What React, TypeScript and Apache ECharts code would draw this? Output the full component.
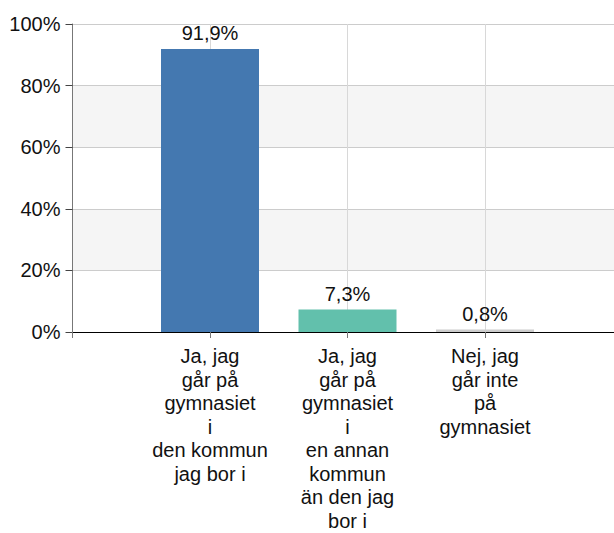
import React, { useEffect, useRef } from "react";
import * as echarts from "echarts";

const categories = [
  "",
  "Ja, jag\ngår på\ngymnasiet\ni\nden kommun\njag bor i",
  "Ja, jag\ngår på\ngymnasiet\ni\nen annan\nkommun\nän den jag\nbor i",
  "Nej, jag\ngår inte\npå\ngymnasiet",
  "",
];
const values: (number | null)[] = [null, 91.9, 7.3, 0.8, null];
const barColors = ["#4478b0", "#4478b0", "#62c0ac", "#cccccc", "#cccccc"];
const yTicks = { min: 0, max: 100, interval: 20 };

const FONT = "'Liberation Sans', Arial, sans-serif";

export default function App() {
  const ref = useRef<HTMLDivElement>(null);
  useEffect(() => {
    if (!ref.current) return;
    const chart = echarts.init(ref.current, undefined, { renderer: "svg" });
    chart.setOption({
      animation: false,
      textStyle: { fontFamily: FONT },
      grid: {
        left: 72.5,
        width: 550,
        top: 24,
        height: 308,
        containLabel: false,
        outerBoundsMode: "none",
      },
      xAxis: {
        type: "category",
        data: categories,
        boundaryGap: false,
        axisLine: { show: true, lineStyle: { color: "#000", width: 1 } },
        axisTick: { show: true, length: 6, alignWithLabel: true, lineStyle: { color: "#777" } },
        axisLabel: {
          interval: 0,
          fontSize: 20,
          lineHeight: 23.5,
          color: "#111",
          margin: 12.5,
          fontFamily: FONT,
          align: "center",
        },
        splitLine: { show: true, lineStyle: { color: "#d8d8d8", width: 1 } },
      },
      yAxis: {
        type: "value",
        min: yTicks.min,
        max: yTicks.max,
        interval: yTicks.interval,
        axisLine: { show: true, lineStyle: { color: "#777", width: 1 } },
        axisTick: { show: true, length: 7, lineStyle: { color: "#444" } },
        axisLabel: {
          formatter: "{value}%",
          fontSize: 20,
          color: "#111",
          margin: 12,
          fontFamily: FONT,
        },
        splitLine: { show: true, lineStyle: { color: "#cccccc", width: 1 } },
        splitArea: { show: true, areaStyle: { color: ["#ffffff", "#f5f5f5"] } },
      },
      series: [
        {
          type: "bar",
          barWidth: 98,
          data: values.map((v, i) =>
            v === null ? "-" : { value: v, itemStyle: { color: barColors[i] } }
          ),
          label: {
            show: true,
            position: "top",
            distance: 6,
            fontSize: 20,
            color: "#111",
            fontFamily: FONT,
            formatter: (p: any) => p.value.toFixed(1).replace(".", ",") + "%",
          },
        },
      ],
    });
    return () => chart.dispose();
  }, []);
  return (
    <div
      ref={ref}
      style={{ position: "absolute", left: 0, top: 0, width: 614, height: 533 }}
    />
  );
}
